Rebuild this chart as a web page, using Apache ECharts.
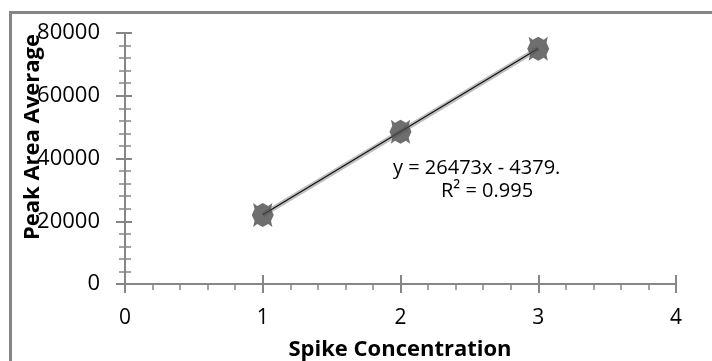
<!DOCTYPE html>
<html>
<head>
<meta charset="utf-8">
<script src="https://cdn.jsdelivr.net/npm/echarts@6/dist/echarts.min.js"></script>
<style>
  html, body { margin: 0; padding: 0; background: #ffffff; }
  #chart { width: 712px; height: 361px; }
</style>
</head>
<body>
<div id="chart"></div>
<script>
// Spike concentration vs. peak area average, with linear trendline
const spikeConcentration = [1, 2, 3];
const peakAreaAverage = [22000, 48500, 75000];

// Fitted line as stated in the equation label
const trendSlope = 26473;
const trendIntercept = -4379;
const trendRange = [1, 3];

const xTicks = { min: 0, max: 4, interval: 1 };
const yTicks = { min: 0, max: 80000, interval: 20000 };

const equationText = 'y = 26473x - 4379.';
const r2Text = 'R\u00B2 = 0.995';
const xTitle = 'Spike Concentration';
const yTitle = 'Peak Area Average';

const points = spikeConcentration.map((x, i) => [x, peakAreaAverage[i]]);
const trendPoints = trendRange.map(x => [x, trendSlope * x + trendIntercept]);

const axisGray = '#868686';
const plainNumber = v => String(v);

const markerPath = 'path://M3,2 L6,4 L10,2 L14,4 L17,2 L16,6 L18,10 L16,14 L17,18 L14,16 L10,18 L6,16 L3,18 L4,14 L2,10 L4,6 Z';

const chart = echarts.init(document.getElementById('chart'), null, { renderer: 'canvas' });

chart.setOption({
  animation: false,
  backgroundColor: '#ffffff',
  grid: { left: 125, right: 36, top: 33, bottom: 77, containLabel: false },
  xAxis: [
    {
      type: 'value', min: xTicks.min, max: xTicks.max, interval: xTicks.interval,
      position: 'bottom',
      axisLine: { onZero: false, lineStyle: { color: axisGray, width: 2 } },
      axisTick: { show: true, inside: false, length: 9, lineStyle: { color: axisGray, width: 2 } },
      minorTick: { show: true, splitNumber: 5, length: 6, lineStyle: { color: axisGray, width: 1.5 } },
      axisLabel: { margin: 24, formatter: plainNumber, fontFamily: 'Open Sans', fontSize: 21, color: '#000' },
      splitLine: { show: false }
    },
    {
      type: 'value', min: xTicks.min, max: xTicks.max, interval: xTicks.interval,
      position: 'bottom',
      axisLine: { show: false, onZero: false },
      axisTick: { show: true, inside: true, length: 9, lineStyle: { color: axisGray, width: 2 } },
      minorTick: { show: false },
      axisLabel: { show: false },
      splitLine: { show: false }
    }
  ],
  yAxis: [
    {
      type: 'value', min: yTicks.min, max: yTicks.max, interval: yTicks.interval,
      position: 'left',
      axisLine: { show: true, onZero: false, lineStyle: { color: axisGray, width: 2 } },
      axisTick: { show: true, inside: false, length: 9, lineStyle: { color: axisGray, width: 2 } },
      minorTick: { show: true, splitNumber: 5, length: 6, lineStyle: { color: axisGray, width: 1.5 } },
      axisLabel: { margin: 25, formatter: plainNumber, fontFamily: 'Open Sans', fontSize: 22, color: '#000' },
      splitLine: { show: false }
    },
    {
      type: 'value', min: yTicks.min, max: yTicks.max, interval: yTicks.interval,
      position: 'left',
      axisLine: { show: false, onZero: false },
      axisTick: { show: true, inside: true, length: 7, lineStyle: { color: axisGray, width: 2 } },
      minorTick: { show: true, splitNumber: 5, length: 6, lineStyle: { color: axisGray, width: 1.5 } },
      axisLabel: { show: false },
      splitLine: { show: false }
    }
  ],
  series: [
    {
      name: 'Peak Area Average',
      type: 'line',
      data: points,
      xAxisIndex: 0, yAxisIndex: 0,
      lineStyle: { color: '#bdbdbd', width: 5 },
      symbol: 'none',
      z: 2
    },
    {
      name: 'Linear trend',
      type: 'line',
      data: trendPoints,
      xAxisIndex: 0, yAxisIndex: 0,
      lineStyle: { color: '#111', width: 1.2 },
      symbol: 'none',
      z: 3
    },
    {
      name: 'Markers',
      type: 'scatter',
      data: points,
      xAxisIndex: 0, yAxisIndex: 0,
      symbol: markerPath,
      symbolSize: [22, 24],
      itemStyle: { color: '#4a4a4a' },
      z: 4
    }
  ],
  graphic: [
    {
      type: 'rect', silent: true, z: 10,
      shape: { x: 10.5, y: 12.5, width: 900, height: 600 },
      style: { fill: 'none', stroke: '#868686', lineWidth: 3 }
    },
    {
      type: 'text', z: 10, x: 393, y: 168,
      style: { text: equationText, font: '20px "Open Sans"', fill: '#000', align: 'left', verticalAlign: 'middle' }
    },
    {
      type: 'text', z: 10, x: 441, y: 191,
      style: { text: r2Text, font: '20px "Open Sans"', fill: '#000', align: 'left', verticalAlign: 'middle' }
    },
    {
      type: 'text', z: 10, x: 400, y: 350,
      style: { text: xTitle, font: 'bold 22px "Open Sans"', fill: '#000', align: 'center', verticalAlign: 'middle' }
    },
    {
      type: 'text', z: 10, x: 33, y: 137, rotation: Math.PI / 2,
      style: { text: yTitle, font: 'bold 22px "Open Sans"', fill: '#000', align: 'center', verticalAlign: 'middle' }
    }
  ]
});
</script>
</body>
</html>
